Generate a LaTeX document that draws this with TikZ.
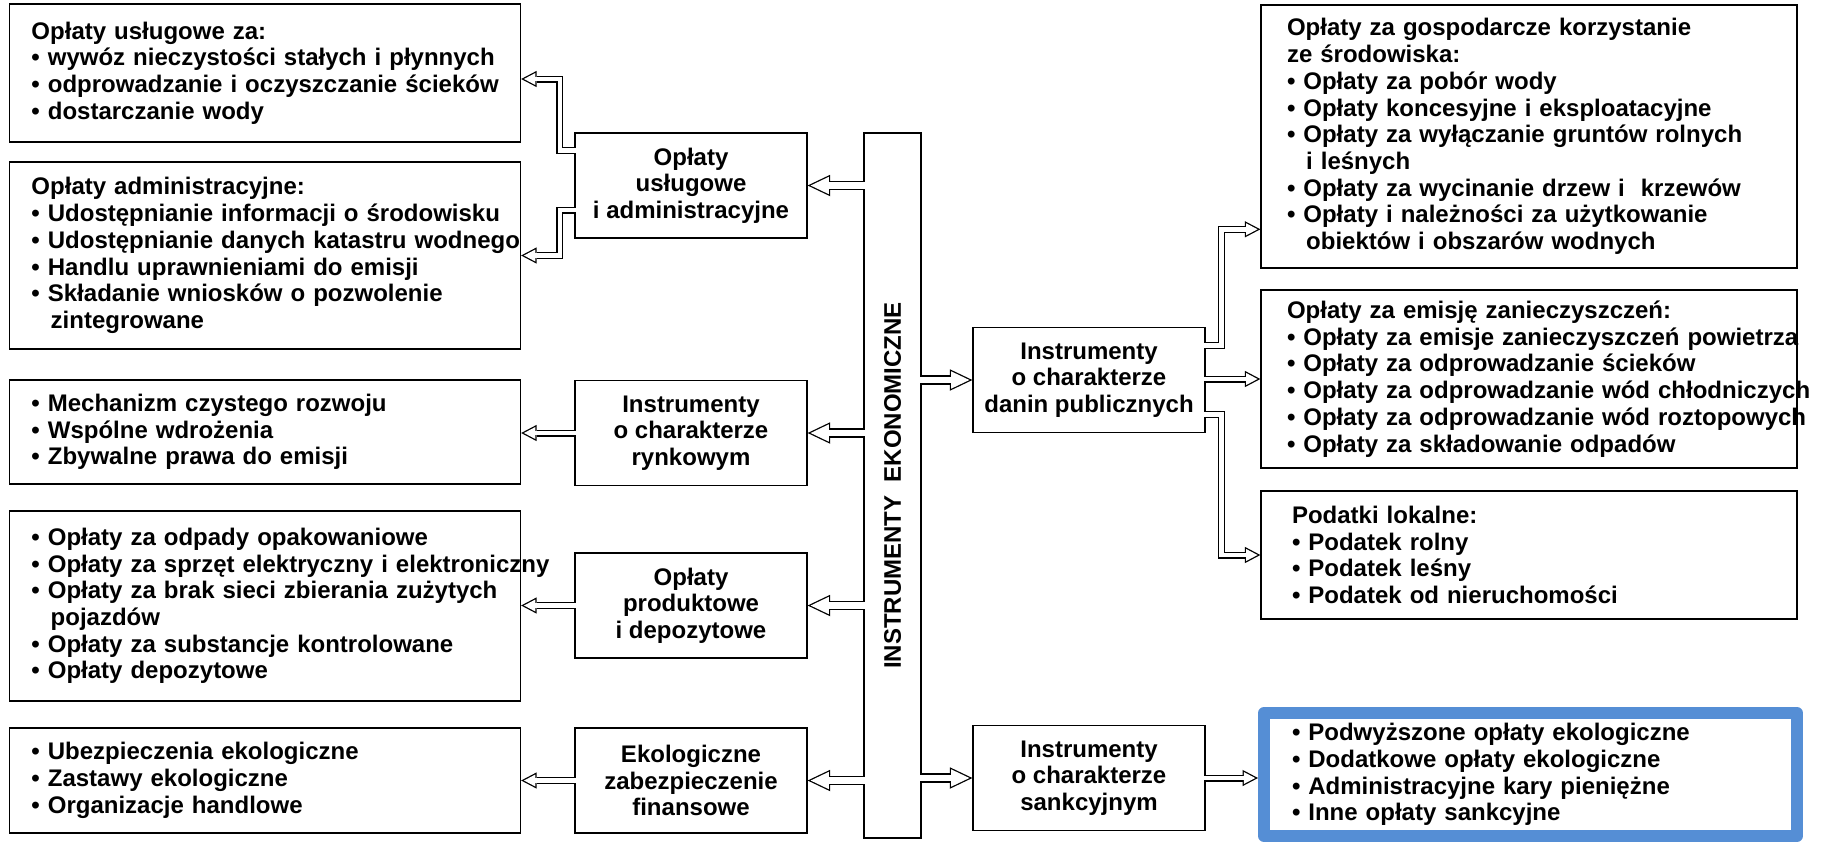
\documentclass[tikz,border=0pt]{standalone}
\usepackage{fontspec}
\setmainfont{Liberation Sans}
\usetikzlibrary{arrows.meta}
\definecolor{frameblue}{RGB}{85,142,213}
\newcommand\itm[1]{\mbox{• #1}}
\newcommand\indt{\hspace*{0.8em}}

\begin{document}
\begin{tikzpicture}[x=0.5pt, y=-0.5pt]
\fontsize{12pt}{13.35pt}\selectfont\bfseries
\tikzset{
    frame/.style={draw, line width=0.65pt},
    listbox/.style={frame, align=left, inner xsep=11pt, text width=233.5pt},
    rightbox/.style={frame, align=left, inner xsep=13pt, text width=242pt},
    midbox/.style={frame, align=center, minimum width=116pt, minimum height=52.5pt},
    bigarrow/.style={line width=4.65pt, shorten <=-0.7pt,
        -{Triangle[length=11.25pt, width=10.75pt, line width=0pt]},
        postaction={draw=white, line width=3.35pt, shorten <=-0.7pt, shorten >=1.5pt,
        -{Triangle[length=9.1pt, width=8.7pt, line width=0pt]}}},
    smallarrow/.style={line width=3.5pt, shorten <=-0.7pt,
        -{Triangle[length=7.75pt, width=8.15pt, line width=0pt]},
        postaction={draw=white, line width=2.2pt, shorten <=-0.7pt, shorten >=1.4pt,
        -{Triangle[length=5.7pt, width=6pt, line width=0pt]}}},
}
\useasboundingbox (0,0) rectangle (1821,842);

% The central box first.
\node[frame, minimum width=28.5pt, minimum height=352.5pt] (ie) at (892.5,485.5) {};
\node[rotate=90] (ietext) at (ie) {INSTRUMENTY\ \ EKONOMICZNE};

% Middle boxes, left and right of the central one.
\node[midbox] (ua) at (691,185.5) {Opłaty\\usługowe\\i administracyjne}; % uslugowe
\node[midbox] (ry) at (691,433)   {Instrumenty\\o charakterze\\rynkowym};  % rynkowe
\node[midbox] (pd) at (691,605.5) {Opłaty\\produktowe\\i depozytowe};     % produktowe
\node[midbox] (ef) at (691,780.5) {Ekologiczne\\zabezpieczenie\\finansowe}; % finansowe
\node[midbox] (dp) at (1089,380)  {Instrumenty\\o charakterze\\danin publicznych}; % daniny
\node[midbox] (sk) at (1089,778)  {Instrumenty\\o charakterze\\sankcyjnym}; % sankcje

% Lists on the left.
\node[listbox, minimum height=69pt] (ou) at (265,73) {Opłaty usługowe za:\\
    \itm{wywóz nieczystości stałych i płynnych}\\
    \itm{odprowadzanie i oczyszczanie ścieków}\\
    \itm{dostarczanie wody}};
\node[listbox, minimum height=93.5pt] (oa) at (265,255.5) {Opłaty administracyjne:\\
    \itm{Udostępnianie informacji o środowisku}\\
    \itm{Udostępnianie danych katastru wodnego}\\
    \itm{Handlu uprawnieniami do emisji}\\
    \itm{Składanie wniosków o pozwolenie}\\
    \indt zintegrowane};
\node[listbox, minimum height=52pt] (mr) at (265,432) {\itm{Mechanizm czystego rozwoju}\\
    \itm{Wspólne wdrożenia}\\
    \itm{Zbywalne prawa do emisji}};
\node[listbox, minimum height=95pt] (op) at (265,606) {\itm{Opłaty za odpady opakowaniowe}\\
    \itm{Opłaty za sprzęt elektryczny i elektroniczny}\\
    \itm{Opłaty za brak sieci zbierania zużytych}\\
    \indt pojazdów\\
    \itm{Opłaty za substancje kontrolowane}\\
    \itm{Opłaty depozytowe}};
\node[listbox, minimum height=52.5pt] (ez) at (265,780.5) {\itm{Ubezpieczenia ekologiczne}\\
    \itm{Zastawy ekologiczne}\\
    \itm{Organizacje handlowe}};

% Lists on the right.
\node[rightbox, minimum height=131.5pt] (og) at (1529,136.5) {Opłaty za gospodarcze korzystanie\\
    ze środowiska:\\
    \itm{Opłaty za pobór wody}\\
    \itm{Opłaty koncesyjne i eksploatacyjne}\\
    \itm{Opłaty za wyłączanie gruntów rolnych}\\
    \indt i leśnych\\
    \itm{Opłaty za wycinanie drzew i\ \ krzewów}\\
    \itm{Opłaty i należności za użytkowanie}\\
    \indt obiektów i obszarów wodnych};
\node[rightbox, minimum height=89pt] (oe) at (1529,379) {Opłaty za emisję zanieczyszczeń:\\
    \itm{Opłaty za emisje zanieczyszczeń powietrza}\\
    \itm{Opłaty za odprowadzanie ścieków}\\
    \itm{Opłaty za odprowadzanie wód chłodniczych}\\
    \itm{Opłaty za odprowadzanie wód roztopowych}\\
    \itm{Opłaty za składowanie odpadów}};
\node[rightbox, inner xsep=15.5pt, text width=237pt, minimum height=64pt] (pl) at (1529,555) {Podatki lokalne:\\
    \itm{Podatek rolny}\\
    \itm{Podatek leśny}\\
    \itm{Podatek od nieruchomości}};
\node[draw=frameblue, line width=6pt, line join=round, align=left, inner xsep=14pt,
    text width=238.5pt, minimum height=61.5pt] (ks) at (1530.5,774.5) {\itm{Podwyższone opłaty ekologiczne}\\
    \itm{Dodatkowe opłaty ekologiczne}\\
    \itm{Administracyjne kary pieniężne}\\
    \itm{Inne opłaty sankcyjne}};

% Arrows out of the central box.
\draw[bigarrow] (ie.west |- ua) -- (ua.east);
\draw[bigarrow] (ie.west |- ry) -- (ry.east);
\draw[bigarrow] (ie.west |- pd) -- (pd.east);
\draw[bigarrow] (ie.west |- ef) -- (ef.east);
\draw[bigarrow] (ie.east |- dp) -- (dp.west);
\draw[bigarrow] (ie.east |- sk) -- (sk.west);

% Arrows to the lists.
\draw[smallarrow] ([yshift=17.5pt]ua.west) -- ++(-14.5,0) |- ([yshift=-3pt]ou.east);
\draw[smallarrow] ([yshift=-12.25pt]ua.west) -- ++(-14.5,0) |- (oa.east);
\draw[smallarrow] (ry.west) -- (ry.west -| mr.east);
\draw[smallarrow] (pd.west) -- (pd.west -| op.east);
\draw[smallarrow] (ef.west) -- (ef.west -| ez.east);
\draw[smallarrow] ([yshift=17.35pt]dp.east) -- ++(16,0) |- ([yshift=-46.4pt]og.west);
\draw[smallarrow] (dp.east |- oe.west) -- (oe.west);
\draw[smallarrow] ([yshift=-17.25pt]dp.east) -- ++(16,0) |- (pl.west);
\draw[smallarrow] (sk.east) -- (sk.east -| ks.west);
\end{tikzpicture}
\end{document}
